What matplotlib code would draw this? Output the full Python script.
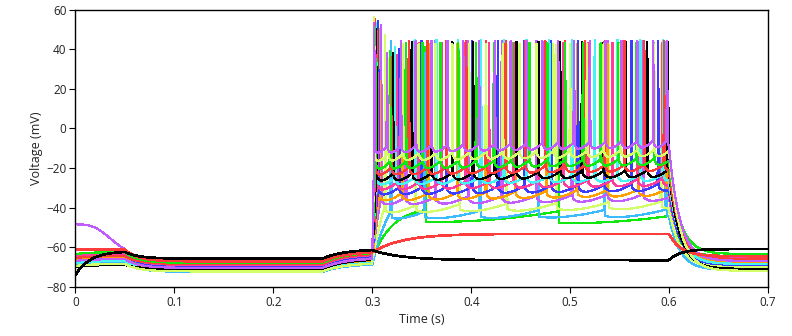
import numpy as np
import matplotlib
matplotlib.use('Agg')
import matplotlib.pyplot as plt

plt.rcParams['font.family'] = ['Open Sans', 'DejaVu Sans']

# protocol timing (s)
t_hyp, t_rel, t_on, t_off, t_end = 0.05, 0.25, 0.30, 0.60, 0.70
dt = 0.0002
t = np.arange(0, t_end + dt / 2, dt)

RED, GREEN, BLUE, CYAN = '#ff3c3c', '#10e810', '#3c3cff', '#44f4f4'
PINK, PURPLE, ORANGE = '#ff3c9c', '#c35cff', '#ffa000'
LIME, SKY, BLACK = '#d2ff68', '#3cbcff', '#000000'

# ---- passive sweeps (no firing during the step) ----
passive_colors = [RED, BLACK]
passive_start = [-61.3, -74.0]     # mV at t=0
passive_rest = [-61.3, -62.0]      # level before hyperpolarisation
passive_hyp = [-67.2, -65.8]       # level during 0.05-0.25
passive_pre = [-62.2, -61.0]       # level approached during 0.25-0.30
passive_step = [-53.3, -66.6]      # level during the step
passive_tau = [0.030, 0.030]
passive_post = [-64.6, -61.0]      # level at the end of the sweep

# ---- firing sweeps ----
fire_colors = [GREEN, SKY, LIME, PURPLE, ORANGE, BLUE, PINK, CYAN, BLACK,
               RED, GREEN, LIME, PURPLE]
fire_start = [-66.0, -69.0, -67.5, -48.5, -66.5, -65.0, -64.5, -68.0, -70.0,
              -65.5, -63.5, -69.5, -67.0]
fire_rest = [-65.0, -68.0, -66.5, -63.0, -65.5, -64.0, -63.5, -67.0, -69.0,
             -64.5, -62.5, -68.5, -66.0]
fire_hyp = [-70.5, -72.5, -71.5, -70.0, -71.0, -69.5, -69.0, -72.0, -71.0,
            -68.5, -68.0, -72.3, -70.5]
fire_pre = [-65.5, -68.5, -67.0, -64.5, -66.5, -64.0, -63.5, -67.5, -66.0,
            -63.0, -62.5, -68.0, -65.5]
fire_post = [-64.5, -71.5, -70.0, -66.5, -67.5, -69.0, -65.5, -68.5, -71.0,
             -66.0, -63.5, -72.0, -67.0]
ahp_first = [-47.0, -46.0, -43.0, -39.0, -37.0, -34.0, -31.5, -29.0, -27.0,
             -24.0, -21.0, -17.0, -13.0]
ahp_last = [-48.5, -45.0, -41.0, -37.0, -34.5, -32.0, -29.5, -27.0, -25.0,
            -22.0, -19.0, -14.5, -10.0]
fire_gap = [6.0, 4.0, 4.0, 4.0, 4.0, 4.0, 4.0, 4.0, 4.0, 4.0, 4.0, 4.0, 4.0]
fire_dip = [0.0, 1.0, 1.5, 2.5, 2.5, 3.0, 3.0, 3.0, 3.5, 3.5, 3.5, 3.5, 3.5]
first_peak = [41.0, 44.0, 47.0, 52.0, 50.0, 54.0, 49.0, 53.0, 50.0, 55.0,
              51.0, 56.0, 53.0]
second_peak = [42.0, 38.0, 36.0, 39.0, 35.0, 40.0, 37.0, 41.0, 38.0, 36.0,
               39.0, 35.0, 38.0]
spike_peak = [42.0, 43.5, 42.0, 44.0, 42.5, 44.0, 43.0, 44.5, 43.5, 44.0,
              43.0, 42.5, 44.0]
spike_times = [
    [0.354, 0.488],
    [0.319, 0.353, 0.409, 0.468, 0.535, 0.597],
    [0.313, 0.344, 0.388, 0.436, 0.486, 0.539, 0.592],
    [0.309, 0.334, 0.364, 0.397, 0.431, 0.466, 0.502, 0.538, 0.574],
    [0.307, 0.330, 0.357, 0.386, 0.415, 0.445, 0.476, 0.507, 0.538, 0.569,
     0.598],
    [0.306, 0.327, 0.350, 0.375, 0.401, 0.427, 0.454, 0.481, 0.508, 0.535,
     0.562, 0.589],
    [0.305, 0.325, 0.347, 0.370, 0.394, 0.418, 0.443, 0.468, 0.493, 0.518,
     0.543, 0.568, 0.593],
    [0.304, 0.323, 0.343, 0.365, 0.387, 0.410, 0.433, 0.456, 0.479, 0.502,
     0.525, 0.548, 0.571, 0.594],
    [0.304, 0.321, 0.340, 0.360, 0.381, 0.402, 0.424, 0.446, 0.468, 0.490,
     0.512, 0.534, 0.556, 0.578, 0.599],
    [0.303, 0.319, 0.337, 0.356, 0.375, 0.395, 0.415, 0.435, 0.455, 0.475,
     0.495, 0.515, 0.535, 0.555, 0.575, 0.595],
    [0.303, 0.318, 0.334, 0.351, 0.369, 0.387, 0.405, 0.423, 0.441, 0.459,
     0.477, 0.495, 0.513, 0.531, 0.549, 0.567, 0.585],
    [0.302, 0.316, 0.331, 0.347, 0.364, 0.381, 0.398, 0.415, 0.432, 0.449,
     0.466, 0.483, 0.500, 0.517, 0.534, 0.551, 0.568, 0.585],
    [0.302, 0.315, 0.329, 0.344, 0.360, 0.376, 0.392, 0.408, 0.424, 0.440,
     0.456, 0.472, 0.488, 0.504, 0.520, 0.536, 0.552, 0.568, 0.584, 0.598],
]


def relax(v, t0, t1, target, tau):
    """Exponential approach to target between t0 and t1, from v just before t0."""
    i0 = np.searchsorted(t, t0)
    i1 = np.searchsorted(t, t1)
    v0 = v[i0 - 1]
    tt = t[i0:i1] - t[i0 - 1]
    v[i0:i1] = target + (v0 - target) * np.exp(-tt / tau)


def sweep_prefix(start, rest, hyp, pre):
    if start > rest + 5:
        # slow sag from a depolarised start
        v = rest + (start - rest) * np.exp(-(t / 0.04) ** 3)
    else:
        v = rest + (start - rest) * np.exp(-t / 0.015)
    relax(v, t_hyp, t_rel, hyp, 0.014)
    relax(v, t_rel, t_on, pre, 0.022)
    return v


def firing_step(v, k):
    times = np.array(spike_times[k])
    i_on = np.searchsorted(t, t_on)
    i_off = np.searchsorted(t, t_off)
    v_on = v[i_on - 1]
    seg = t[i_on:i_off]

    # trough level drifting across the step
    ahp = ahp_first[k] + (ahp_last[k] - ahp_first[k]) * (seg - t_on) / (t_off - t_on)
    gap = fire_gap[k]
    out = np.empty_like(seg)

    # charging up to the first spike
    t1 = times[0]
    m = seg < t1
    thr1 = ahp[m][-1] + gap
    tau_c = 0.02
    frac = (1 - np.exp(-(seg[m] - t_on) / tau_c)) / (1 - np.exp(-(t1 - t_on) / tau_c))
    out[m] = v_on + (thr1 - v_on) * frac

    # inter-spike trajectories: short after-depolarisation, trough, ramp
    isis = np.diff(times)
    for j, ts in enumerate(times):
        isi = isis[j] if j < len(isis) else (isis[-1] if len(isis) else 0.13)
        nxt = times[j + 1] if j + 1 < len(times) else t_off + 1
        m = (seg >= ts) & (seg < nxt)
        s = np.clip((seg[m] - ts) / isi, 0, 1)
        out[m] = ahp[m] + gap * s ** 2 + fire_dip[k] * (1 - s) ** 8

    # action potentials
    for j, ts in enumerate(times):
        pk = first_peak[k] if j == 0 else (second_peak[k] if j == 1 else spike_peak[k])
        up = (seg >= ts - 0.0004) & (seg < ts)
        if up.any():
            out[up] = np.linspace(out[up][0], pk, up.sum() + 1)[1:]
        dn = (seg >= ts) & (seg < ts + 0.0008)
        if dn.any():
            out[dn] = np.linspace(pk, out[dn][-1], dn.sum())
    v[i_on:i_off] = out


fig = plt.figure(figsize=(7.92, 3.36), dpi=100)
ax = fig.add_axes([0.0953, 0.1467, 0.8744, 0.8250])

lw = 0.9

for k in range(len(fire_colors)):
    v = sweep_prefix(fire_start[k], fire_rest[k], fire_hyp[k], fire_pre[k])
    firing_step(v, k)
    relax(v, t_off, t_end + dt, fire_post[k], 0.011)
    ax.plot(t, v, color=fire_colors[k], lw=lw, antialiased=False)

for k in range(len(passive_colors)):
    v = sweep_prefix(passive_start[k], passive_rest[k], passive_hyp[k],
                     passive_pre[k])
    relax(v, t_on, t_off, passive_step[k], passive_tau[k])
    relax(v, t_off, t_end + dt, passive_post[k], 0.012)
    ax.plot(t, v, color=passive_colors[k], lw=lw + 0.3, antialiased=False)

ax.set_xlim(0, 0.7)
ax.set_ylim(-80, 60)
ax.set_xticks([0, 0.1, 0.2, 0.3, 0.4, 0.5, 0.6, 0.7])
ax.set_xticklabels(['0', '0.1', '0.2', '0.3', '0.4', '0.5', '0.6', '0.7'])
ax.set_yticks(np.arange(-80, 61, 20))
ax.tick_params(direction='out', length=4.5, width=0.8, labelsize=8.5,
               labelcolor='#222222', pad=2)
for sp in ax.spines.values():
    sp.set_linewidth(1.0)
ax.set_xlabel('Time (s)', fontsize=9, color='#222222', labelpad=3)
ax.set_ylabel('Voltage (mV)', fontsize=9, color='#222222', labelpad=2)

fig.savefig('out.png', dpi=100)
